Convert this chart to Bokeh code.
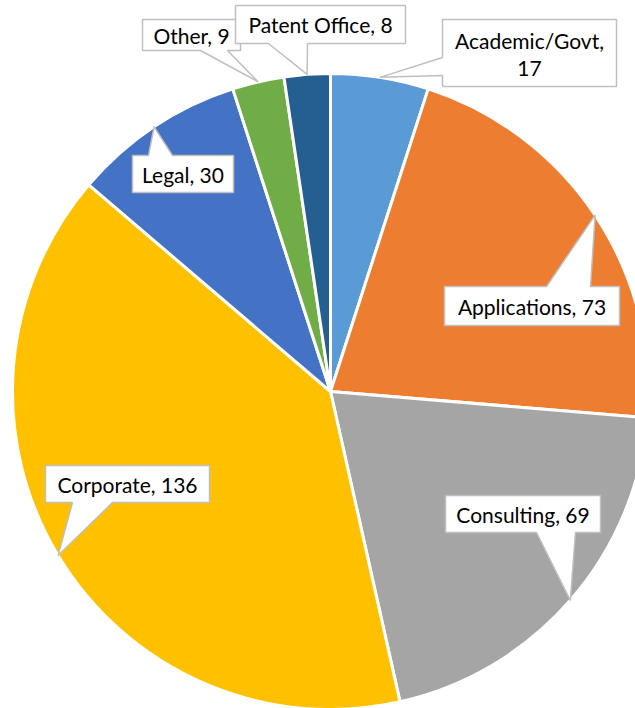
import math
from bokeh.plotting import figure
from bokeh.models import Range1d
from bokeh.core.properties import value
from bokeh.embed import file_html
from bokeh.resources import INLINE

categories = ["Academic/Govt", "Applications", "Consulting", "Corporate", "Legal", "Other", "Patent Office"]
values = [17, 73, 69, 136, 30, 9, 8]
colors = ["#5B9BD5", "#ED7D31", "#A5A5A5", "#FFC000", "#4472C4", "#70AD47", "#255E91"]

W, H = 635, 708
CX, CY, R = 330, 391, 318  # pixel coords (y down)

def Y(py):
    return H - py

p = figure(width=W, height=H, output_backend="svg", toolbar_location=None,
           x_range=Range1d(0, W), y_range=Range1d(0, H), min_border=0)
p.axis.visible = False
p.grid.visible = False
p.outline_line_color = None
p.background_fill_color = "white"

total = sum(values)
starts, ends, mids = [], [], []
cum = 0
for v in values:
    a0 = math.pi / 2 - 2 * math.pi * cum / total
    a1 = math.pi / 2 - 2 * math.pi * (cum + v) / total
    starts.append(a0)
    ends.append(a1)
    mids.append((a0 + a1) / 2)
    cum += v

p.wedge(x=CX, y=Y(CY), radius=R, start_angle=starts, end_angle=ends, direction="clock",
        fill_color=colors, line_color="white", line_width=3)

def tip(i):
    a = mids[i]
    return (CX + R * math.cos(a), CY - R * math.sin(a))

# callout layout: box (px), pointer side, pointer base
layout = {
    "Academic/Govt": ((442, 19, 616, 86), "left", (57, 75)),
    "Applications": ((444, 286, 619, 325), "top", (546, 590)),
    "Consulting": ((445, 495, 600, 532), "bottom", (536, 575)),
    "Corporate": ((45, 465, 209, 502), "bottom", (72, 112)),
    "Legal": ((132, 155, 233, 192), "top", (148, 172)),
    "Other": ((142, 19, 240, 50), "bottom", (200, 227)),
    "Patent Office": ((235, 5, 405, 43), "bottom", (268, 307)),
}

def polygon(box, side, base, t):
    x0, y0, x1, y1 = box
    a, b = base
    if side == "bottom":
        pts = [(x0, y0), (x1, y0), (x1, y1), (b, y1), t, (a, y1), (x0, y1)]
    elif side == "top":
        pts = [(x0, y0), (a, y0), t, (b, y0), (x1, y0), (x1, y1), (x0, y1)]
    else:  # left
        pts = [(x0, y0), (x1, y0), (x1, y1), (x0, y1), (x0, b), t, (x0, a)]
    return [q[0] for q in pts], [Y(q[1]) for q in pts]

order = ["Academic/Govt", "Applications", "Consulting", "Corporate", "Legal", "Other", "Patent Office"]
for name in order:
    i = categories.index(name)
    box, side, base = layout[name]
    xs, ys = polygon(box, side, base, tip(i))
    p.patch(xs, ys, fill_color="white", line_color="#BFBFBF", line_width=1.5)
    cx = (box[0] + box[2]) / 2
    if name == "Academic/Govt":
        lines = [(f"{name},", 40), (f"{values[i]}", 68)]
    else:
        lines = [(f"{name}, {values[i]}", (box[1] + box[3]) / 2)]
    for txt, ty in lines:
        p.text(x=[cx], y=[Y(ty)], text=[txt], text_align="center", text_baseline="middle",
               text_font=value("Lato"), text_font_size="21px", text_color="#000000")

open("out.html", "w").write(file_html(p, INLINE))
